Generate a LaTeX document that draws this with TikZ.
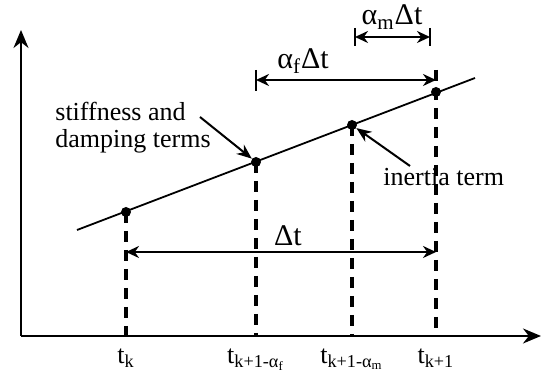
\documentclass[tikz,border=0pt]{standalone}
\usepackage{fontspec}
\setmainfont{Liberation Serif}
\usetikzlibrary{arrows.meta,positioning}

\begin{document}
\begin{tikzpicture}[x=0.5pt, y=-0.5pt, >=Stealth,
    axis/.style={line width=1.1pt, -{Stealth[length=9pt,width=7.5pt]}},
    guide/.style={line width=1.7pt, dash pattern=on 5.5pt off 4pt},
    dimline/.style={line width=1.2pt, {Stealth[length=6.5pt,width=6pt]}-{Stealth[length=6.5pt,width=6pt]}},
    barline/.style={line width=1.2pt},
    pointer/.style={line width=1pt, -{Stealth[length=7.5pt,width=6pt]}},
    dot/.style={circle, fill, inner sep=0pt, minimum size=5pt},
    lbl/.style={font=\fontsize{13}{13.5}\selectfont, inner sep=1pt},
    biglbl/.style={font=\fontsize{15}{16}\selectfont, inner sep=1pt}
  ]
  \useasboundingbox (0,0) rectangle (542,378);

  % --- axes ---
  \coordinate (O) at (21,336);
  \coordinate (ytop) at (21,30);
  \coordinate (xend) at (541,336);
  \draw[axis] (O) -- (ytop);
  \draw[axis] (O) -- (xend);

  % --- straight line and points on it ---
  \coordinate (ls) at (77,230);
  \coordinate (le) at (475,78);
  \draw[line width=0.9pt] (ls) -- (le);

  \node[dot] (pk) at (126,212) {};
  \node[dot] (pf) at (256,162) {};
  \node[dot] (pm) at (352,125) {};
  \node[dot] (p1) at (436,92) {};

  % --- foot points on the time axis ---
  \coordinate (bk) at (126,336);
  \coordinate (bf) at (256,336);
  \coordinate (bm) at (352,336);
  \coordinate (b1) at (436,336);
  \coordinate (tp1) at (436,70);

  % --- dashed guides ---
  \draw[guide] (pk.center) -- (bk);
  \draw[guide] (pf.center) -- (bf);
  \draw[guide] (pm.center) -- (bm);
  \draw[guide] (tp1) -- (b1);

  % --- time labels ---
  \node[lbl, below=5pt of bk] (tk) {t\textsubscript{k}};
  \node[lbl, below=5pt of bf] (tf) {t\textsubscript{k+1-α\textsubscript{f}}};
  \node[lbl, below=5pt of bm] (tm) {t\textsubscript{k+1-α\textsubscript{m}}};
  \node[lbl, below=5pt of b1] (t1) {t\textsubscript{k+1}};

  % --- Delta t ---
  \coordinate (dk) at (126,252);
  \coordinate (d1) at (436,252);
  \draw[dimline] (dk) -- (d1);
  \node[biglbl] (dt) at (288,236) {Δt};

  % --- alpha_f Delta t ---
  \coordinate (fa) at (256,70);
  \coordinate (fb) at (256,91);
  \coordinate (fl) at (256,80);
  \coordinate (fr) at (436,80);
  \draw[barline] (fa) -- (fb);
  \draw[dimline] (fl) -- (fr);
  \node[biglbl] (aft) at (303,61) {α\textsubscript{f}Δt};

  % --- alpha_m Delta t ---
  \coordinate (ma) at (355,28);
  \coordinate (mb) at (355,46);
  \coordinate (na) at (430,28);
  \coordinate (nb) at (430,46);
  \coordinate (ml) at (355,37);
  \coordinate (mr) at (430,37);
  \draw[barline] (ma) -- (mb);
  \draw[barline] (na) -- (nb);
  \draw[dimline] (ml) -- (mr);
  \node[biglbl] (amt) at (392,17) {α\textsubscript{m}Δt};

  % --- annotations ---
  \node[lbl, align=left, anchor=west] (stiff) at (53,128) {stiffness and\\damping terms};
  \coordinate (sa) at (200,117);
  \draw[pointer] (sa) -- (pf);

  \node[lbl, anchor=west] (inert) at (381,177) {inertia term};
  \coordinate (ia) at (410,166);
  \draw[pointer] (ia) -- (pm);
\end{tikzpicture}
\end{document}
